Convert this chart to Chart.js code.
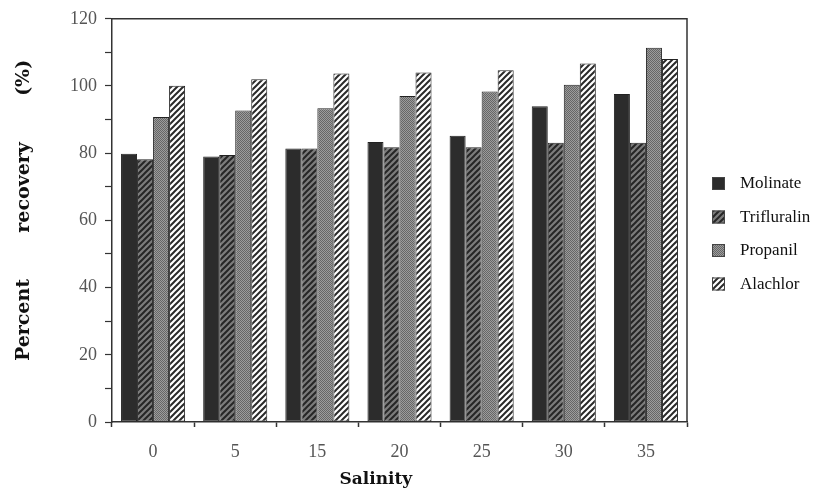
<!DOCTYPE html>
<html lang="en">
<head>
    <meta charset="UTF-8">
    <script src="https://cdn.jsdelivr.net/npm/chart.js"></script>
    <style>
        body{ margin:0; background:#fff; }
        #myChart{ display:block; }
    </style>
    <title>Percent recovery vs salinity</title>
</head>
<body>
    <canvas id="myChart" width="825" height="498"></canvas>

    <script>
        // data
        const salinity    = ['0', '5', '15', '20', '25', '30', '35'];
        const molinate    = [79.8, 79.0, 81.4, 83.3, 85.2, 94.0, 97.6];
        const trifluralin = [78.2, 79.5, 81.4, 81.8, 81.8, 83.1, 83.1];
        const propanil    = [90.8, 92.7, 93.4, 97.0, 98.4, 100.4, 111.4];
        const alachlor    = [100.1, 102.0, 103.7, 104.0, 104.7, 106.7, 108.0];
        const yTicks      = [0, 20, 40, 60, 80, 100, 120];

        const ctx = document.getElementById('myChart').getContext('2d');

        // fill patterns (hatch / stipple like the printed figure)
        function hatch(bg, fg){
            const c = document.createElement('canvas');
            c.width = 6; c.height = 6;
            const g = c.getContext('2d');
            g.fillStyle = bg;
            g.fillRect(0, 0, 6, 6);
            g.strokeStyle = fg;
            g.lineWidth = 2;
            g.beginPath();
            g.moveTo(0, 6); g.lineTo(6, 0);
            g.moveTo(-1, 1); g.lineTo(1, -1);
            g.moveTo(5, 7); g.lineTo(7, 5);
            g.stroke();
            return ctx.createPattern(c, 'repeat');
        }
        function stipple(){
            const c = document.createElement('canvas');
            c.width = 2; c.height = 2;
            const g = c.getContext('2d');
            g.fillStyle = '#9c9c9c';
            g.fillRect(0, 0, 2, 2);
            g.fillStyle = '#666';
            g.fillRect(0, 0, 1, 1);
            g.fillRect(1, 1, 1, 1);
            return ctx.createPattern(c, 'repeat');
        }

        const fills = ['#2c2c2c', hatch('#7c7c7c', '#262626'), stipple(), hatch('#ffffff', '#2a2a2a')];

        const data = {
            labels: salinity,
            datasets: [
                { label: 'Molinate',    data: molinate },
                { label: 'Trifluralin', data: trifluralin },
                { label: 'Propanil',    data: propanil },
                { label: 'Alachlor',    data: alachlor },
            ].map((d, i) => Object.assign(d, {
                backgroundColor: fills[i],
                borderColor: '#222',
                borderWidth: 1,
                borderSkipped: false,
                categoryPercentage: 0.78,
                barPercentage: 1.0,
            }))
        };

        // box around plot area (top + right sides)
        const frame = {
            id: 'frame',
            afterDatasetsDraw: (chart) => {
                const a = chart.chartArea;
                const c = chart.ctx;
                c.save();
                c.strokeStyle = '#333';
                c.lineWidth = 1.5;
                c.beginPath();
                c.moveTo(a.left, a.top);
                c.lineTo(a.right, a.top);
                c.lineTo(a.right, a.bottom);
                c.stroke();
                c.restore();
            }
        };

        // legend on the right, drawn by hand
        const sideLegend = {
            id: 'sideLegend',
            afterDraw: (chart) => {
                const c = chart.ctx;
                c.save();
                c.font = '17px "Liberation Serif"';
                c.textBaseline = 'middle';
                chart.data.datasets.forEach((ds, i) => {
                    const y = 184 + i * 33.5;
                    c.fillStyle = ds.backgroundColor;
                    c.fillRect(712, y - 7, 13, 13);
                    c.strokeStyle = '#444';
                    c.lineWidth = 1;
                    c.strokeRect(712.5, y - 6.5, 12, 12);
                    c.fillStyle = '#111';
                    c.fillText(ds.label, 740, y);
                });
                c.restore();
            }
        };

        const config = {
            type: 'bar',
            data: data,
            plugins: [frame, sideLegend],
            options: {
                responsive: false,
                animation: false,
                layout: {
                    padding: { top: 14, right: 138, left: 0, bottom: 0 }
                },
                plugins: {
                    legend: { display: false },
                    tooltip: { enabled: false }
                },
                scales: {
                    x: {
                        afterFit: (s) => { s.height = 76; },
                        grid: {
                            offset: true,
                            drawOnChartArea: false,
                            tickLength: 5,
                            color: '#333',
                            tickWidth: 1.5
                        },
                        border: { display: true, color: '#333', width: 1.5 },
                        ticks: {
                            padding: 14,
                            color: '#555',
                            font: { family: 'Liberation Serif', size: 18 }
                        },
                        title: {
                            display: true,
                            text: 'Salinity        ',
                            color: '#111',
                            font: { family: 'DejaVu Serif', size: 17, weight: 'bold' },
                            padding: { top: 0, bottom: 8 }
                        }
                    },
                    y: {
                        min: 0,
                        max: 120,
                        afterFit: (s) => { s.width = 112; },
                        grid: {
                            drawOnChartArea: false,
                            tickLength: 7,
                            color: '#333',
                            tickWidth: 1.2
                        },
                        border: { display: true, color: '#333', width: 1.5 },
                        ticks: {
                            stepSize: 10,
                            padding: 8,
                            color: '#555',
                            font: { family: 'Liberation Serif', size: 18 },
                            callback: (v) => yTicks.includes(v) ? v : ''
                        },
                        title: {
                            display: true,
                            text: '   Percent       recovery       (%)',
                            color: '#111',
                            font: { family: 'DejaVu Serif', size: 19, weight: 'bold' },
                            padding: { top: 13, bottom: 0 }
                        }
                    }
                }
            }
        };

        const myChart = new Chart(ctx, config);
    </script>
</body>
</html>
